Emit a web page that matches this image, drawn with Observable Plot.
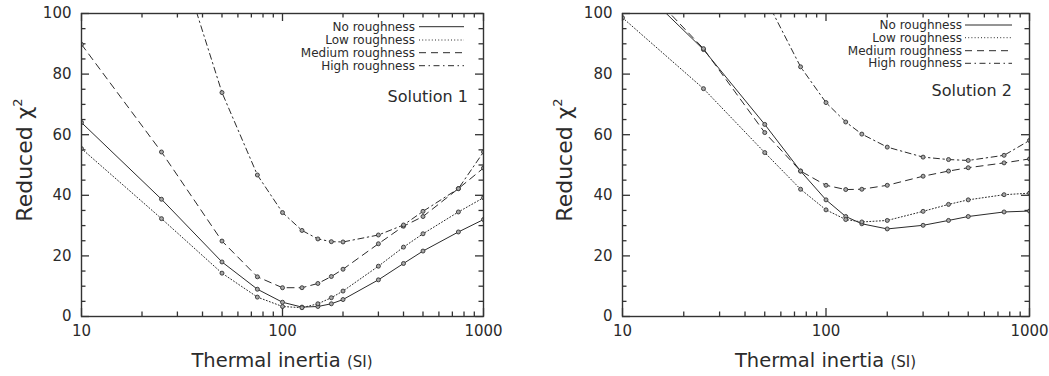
<!DOCTYPE html>
<html><head><meta charset="utf-8">
<script src="https://cdn.jsdelivr.net/npm/d3@7"></script>
<script src="https://cdn.jsdelivr.net/npm/@observablehq/plot@0.6"></script>
<style>
body{margin:0;background:#fff;}
#wrap{position:relative;width:1049px;height:376px;display:flex;font-family:"DejaVu Sans";}
.panel{position:relative;}
</style></head><body><div id="wrap"></div>
<script>
// ---- data ----
const seriesNames = ["No roughness", "Low roughness", "Medium roughness", "High roughness"];

const inertia1 = [10, 25, 50, 75, 100, 125, 150, 175, 200, 300, 400, 500, 750, 1000];
const sol1None = [64.0, 38.7, 18.0, 9.0, 4.7, 3.1, 3.3, 4.2, 5.6, 12.1, 17.5, 21.6, 27.9, 32.0];
const sol1Low  = [55.4, 32.3, 14.3, 6.4, 3.3, 2.9, 4.2, 6.2, 8.4, 16.6, 22.9, 27.3, 34.5, 39.2];
const sol1Med  = [89.8, 54.3, 24.9, 13.1, 9.5, 9.5, 10.9, 13.2, 15.6, 24.0, 29.8, 33.0, 42.2, 49.0];
const sol1High = [null, 137, 73.9, 46.7, 34.3, 28.4, 25.6, 24.7, 24.6, 26.9, 30.2, 34.7, 42.2, 54.3];

const inertia2 = [10, 25, 50, 75, 100, 125, 150, 200, 300, 400, 500, 750, 1000];
const sol2None = [114, 88.1, 63.4, 48.0, 38.5, 33.0, 30.6, 28.9, 30.1, 31.7, 33.0, 34.5, 34.8];
const sol2Low  = [98.6, 75.2, 54.1, 42.0, 35.2, 32.0, 31.2, 31.7, 34.7, 37.0, 38.5, 40.2, 40.7];
const sol2Med  = [116.5, 88.4, 60.7, 48.0, 43.3, 41.9, 42.0, 43.3, 46.3, 48.0, 49.1, 50.7, 52.0];
const sol2High = [null, null, 105.5, 82.4, 70.6, 64.2, 60.2, 55.9, 52.6, 51.8, 51.5, 53.2, 58.1];

const xMajorTicks = [10, 100, 1000];
const xMinorTicks = [20, 30, 40, 50, 60, 70, 80, 90, 200, 300, 400, 500, 600, 700, 800, 900];
const yMajorTicks = [0, 20, 40, 60, 80, 100];
const yMinorTicks = [5, 10, 15, 25, 30, 35, 45, 50, 55, 65, 70, 75, 85, 90, 95];

const dashes = [null, "1,2.2", "7,5", "6,3.5,1.5,3.5"];
const ink = "#2b2b2b";

function buildPanel(opts) {
  const {width, marginLeft, marginRight, xs, series, title, legend, titlePos, yLabelX} = opts;
  const height = 376, marginTop = 13, marginBottom = 60;
  const fw = width - marginLeft - marginRight, fh = height - marginTop - marginBottom;
  const data = [];
  series.forEach((vals, k) => vals.forEach((v, i) => {
    if (v != null) data.push({ti: xs[i], chi: v, s: seriesNames[k]});
  }));
  const marks = [];
  // inward tick marks on all four sides (gnuplot style, mirrored)
  const tk = {stroke: "#333", strokeWidth: 1.3};
  const major = 8, minor = 4.5;
  marks.push(
    Plot.ruleX(xMajorTicks, {...tk, x: d => d, insetTop: fh - major}),
    Plot.ruleX(xMinorTicks, {...tk, x: d => d, insetTop: fh - minor}),
    Plot.ruleX(xMajorTicks, {...tk, x: d => d, insetBottom: fh - major}),
    Plot.ruleX(xMinorTicks, {...tk, x: d => d, insetBottom: fh - minor}),
    Plot.ruleY(yMajorTicks, {...tk, y: d => d, insetRight: fw - major}),
    Plot.ruleY(yMinorTicks, {...tk, y: d => d, insetRight: fw - minor}),
    Plot.ruleY(yMajorTicks, {...tk, y: d => d, insetLeft: fw - major}),
    Plot.ruleY(yMinorTicks, {...tk, y: d => d, insetLeft: fw - minor})
  );
  seriesNames.forEach((name, k) => {
    marks.push(Plot.line(data.filter(d => d.s === name), {
      x: "ti", y: "chi", stroke: ink, strokeWidth: 1, strokeDasharray: dashes[k], clip: true
    }));
  });
  marks.push(Plot.dot(data.filter(d => d.chi <= 100), {
    x: "ti", y: "chi", r: 2, stroke: "#333", fill: "#a8a8a8", strokeWidth: 0.9, clip: true
  }));
  marks.push(
    Plot.axisX({ticks: xMajorTicks, anchor: "bottom", tickSize: 0, tickPadding: 9, tickFormat: d => String(d), label: null, fill: ink, fontSize: 15}),
    Plot.axisY({ticks: yMajorTicks, anchor: "left", tickSize: 0, tickPadding: 10, tickFormat: d => String(d), label: null, fill: ink, fontSize: 15}),
    Plot.frame({stroke: "#333", strokeWidth: 1.4})
  );
  const chart = Plot.plot({
    width, height, marginLeft, marginRight, marginTop, marginBottom,
    style: {fontFamily: "DejaVu Sans", fontSize: "15px", color: ink, background: "#fff"},
    x: {type: "log", domain: [10, 1000]},
    y: {domain: [0, 100]},
    marks
  });
  const svg = d3.select(chart);
  const g = svg.append("g").attr("font-family", "DejaVu Sans").attr("fill", ink);
  // legend
  seriesNames.forEach((name, k) => {
    const y = legend.rows[k];
    g.append("text").attr("x", legend.textRight).attr("y", y).attr("text-anchor", "end")
      .attr("dominant-baseline", "central").attr("font-size", 12).text(name);
    g.append("line").attr("x1", legend.x1).attr("x2", legend.x2).attr("y1", y).attr("y2", y)
      .attr("stroke", ink).attr("stroke-width", 1).attr("stroke-dasharray", dashes[k]);
  });
  g.append("text").attr("x", titlePos.right).attr("y", titlePos.y).attr("text-anchor", "end")
    .attr("dominant-baseline", "central").attr("font-size", 16).text(title);
  // x label
  const cx = (marginLeft + width - marginRight) / 2;
  const xl = g.append("text").attr("x", cx).attr("y", 367).attr("text-anchor", "middle").attr("font-size", 19.5);
  xl.append("tspan").text("Thermal inertia ");
  xl.append("tspan").attr("font-size", 15).text("(SI)");
  // y label
  const yl = g.append("text").attr("transform", `translate(${yLabelX},160) rotate(-90)`)
    .attr("text-anchor", "middle").attr("font-size", 22);
  yl.append("tspan").text("Reduced χ");
  yl.append("tspan").attr("font-size", 13).attr("dy", -10).text("2");
  const div = document.createElement("div");
  div.className = "panel";
  div.style.width = width + "px";
  div.appendChild(chart);
  document.getElementById("wrap").appendChild(div);
}

buildPanel({
  width: 524, marginLeft: 81, marginRight: 41,
  xs: inertia1, series: [sol1None, sol1Low, sol1Med, sol1High],
  title: "Solution 1",
  legend: {textRight: 415, x1: 419, x2: 464, rows: [26.7, 40, 52.7, 65.7]},
  titlePos: {right: 468, y: 96.7},
  yLabelX: 32
});
buildPanel({
  width: 525, marginLeft: 98, marginRight: 20,
  xs: inertia2, series: [sol2None, sol2Low, sol2Med, sol2High],
  title: "Solution 2",
  legend: {textRight: 438, x1: 441, x2: 488, rows: [25, 37.7, 50.7, 63.3]},
  titlePos: {right: 488, y: 90.7},
  yLabelX: 48
});
</script></body></html>
